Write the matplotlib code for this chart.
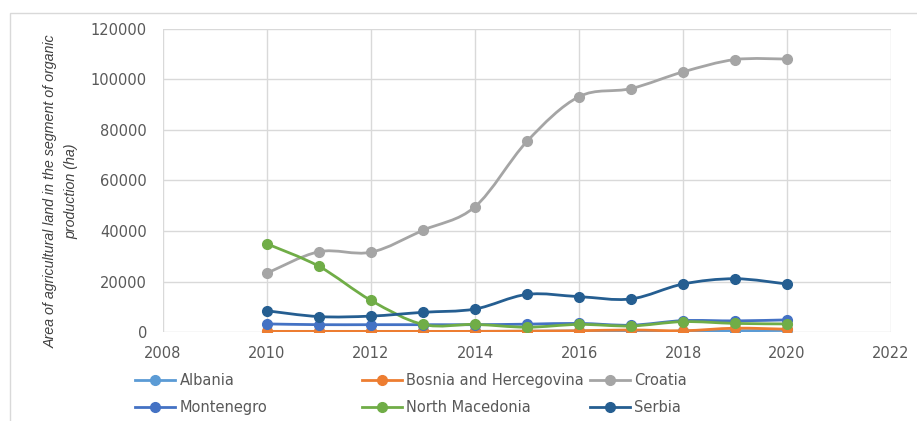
import numpy as np
import matplotlib.pyplot as plt
from matplotlib.path import Path
from matplotlib.patches import PathPatch, Rectangle
from matplotlib.lines import Line2D

years = [2010, 2011, 2012, 2013, 2014, 2015, 2016, 2017, 2018, 2019, 2020]

albania = [100, 100, 150, 200, 250, 300, 400, 150, 300, 500, 600]
bosnia = [250, 250, 250, 250, 250, 350, 500, 800, 500, 1500, 1100]
croatia = [23300, 31800, 31600, 40300, 49600, 75500, 93200, 96400, 103000, 107900, 108100]
montenegro = [3200, 2900, 2900, 2900, 2900, 3100, 3400, 2700, 4500, 4400, 4800]
north_macedonia = [34900, 26000, 12500, 3000, 3000, 1900, 3000, 2400, 4100, 3400, 3200]
serbia = [8400, 6100, 6300, 7800, 9100, 14900, 14000, 13100, 19000, 21100, 19000]

names = ['Albania', 'Bosnia and Hercegovina', 'Croatia',
         'Montenegro', 'North Macedonia', 'Serbia']
series = [albania, bosnia, croatia, montenegro, north_macedonia, serbia]
colors = ['#5B9BD5', '#ED7D31', '#A5A5A5', '#4472C4', '#70AD47', '#255E91']


def smooth_path(x, y):
    # cubic bezier segments through every point (spreadsheet style smoothing)
    x = np.asarray(x, float)
    y = np.asarray(y, float)
    n = len(x)
    verts = [(x[0], y[0])]
    codes = [Path.MOVETO]
    for i in range(n - 1):
        i0 = max(i - 1, 0)
        i3 = min(i + 2, n - 1)
        c1 = (x[i] + (x[i + 1] - x[i0]) / 6, y[i] + (y[i + 1] - y[i0]) / 6)
        c2 = (x[i + 1] - (x[i3] - x[i]) / 6, y[i + 1] - (y[i3] - y[i]) / 6)
        verts += [c1, c2, (x[i + 1], y[i + 1])]
        codes += [Path.CURVE4] * 3
    return Path(verts, codes)


W, H = 917, 421
fig = plt.figure(figsize=(W / 100, H / 100), dpi=100)

# outer chart frame
fig.patches.append(Rectangle((10 / W, -0.1), 1.2, (H - 13) / H + 0.1,
                             transform=fig.transFigure, fill=False,
                             edgecolor='#D9D9D9', linewidth=1))

ax = fig.add_axes([163 / W, 1 - 332 / H, (891 - 163) / W, (332 - 29) / H])

for vals, c in zip(series, colors):
    ax.add_patch(PathPatch(smooth_path(years, vals), facecolor='none',
                           edgecolor=c, linewidth=2, zorder=3))
    ax.plot(years, vals, linestyle='none', marker='o', markersize=7,
            color=c, zorder=4)

ax.set_xlim(2008, 2022)
ax.set_ylim(0, 120000)
ax.set_xticks(range(2008, 2023, 2))
ax.set_yticks(range(0, 120001, 20000))
ax.grid(True, color='#D9D9D9', linewidth=1)
ax.set_axisbelow(True)
for s in ax.spines.values():
    s.set_visible(False)
ax.tick_params(length=0, labelsize=10.5, labelcolor='#595959')
ax.tick_params(axis='x', pad=10)
ax.tick_params(axis='y', pad=11.5)

fig.text(61 / W, 1 - 191 / H,
         'Area of agricultural land in the segment of organic\nproduction (ha)',
         rotation=90, ha='center', va='center', multialignment='center',
         fontsize=10.3, style='italic', color='#404040',
         family='Liberation Sans', linespacing=1.55)

# legend, three columns of two rows
cols = [(135, [0, 3]), (362, [1, 4]), (590, [2, 5])]
for x0, idx in cols:
    handles = [Line2D([], [], color=colors[i], linewidth=2, marker='o',
                      markersize=7) for i in idx]
    fig.legend(handles, [names[i] for i in idx], loc='center left',
               bbox_to_anchor=(x0 / W, 1 - 394 / H), frameon=False,
               fontsize=10.5, labelcolor='#595959', handlelength=2.75,
               handletextpad=0.3, borderpad=0, borderaxespad=0,
               labelspacing=0.8, numpoints=1)

fig.savefig('out.png', dpi=100)
